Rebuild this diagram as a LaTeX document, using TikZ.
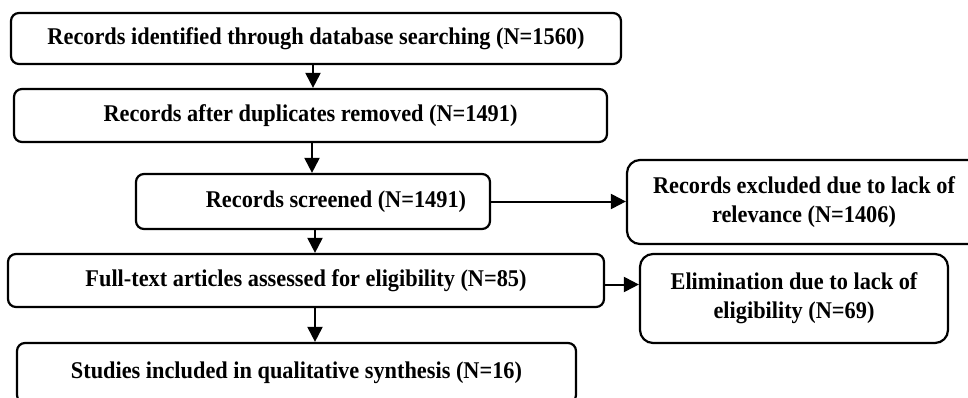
\documentclass[tikz,border=0pt]{standalone}
\usepackage{fontspec}
\setmainfont{Liberation Serif}
\newfontfamily\boxfont[FakeStretch=0.93]{Liberation Serif}
\usetikzlibrary{arrows.meta}
\begin{document}
\begin{tikzpicture}[x=1pt,y=-1pt,
  box/.style={draw=black,line width=2.2pt,rounded corners=8pt,inner sep=0pt,align=center,
    font=\boxfont\fontsize{24}{29}\selectfont\bfseries},
  bigbox/.style={box,rounded corners=13pt},
  arr/.style={line width=2pt,-{Triangle[length=15pt,width=15pt]}}]
\useasboundingbox (0,0) rectangle (968,398);
\fill[white] (0,0) rectangle (968,398);
\node[box,minimum width=610pt,minimum height=51pt] (b1) at (316,38.5) {Records identified through database searching (N=1560)};
\node[box,minimum width=593pt,minimum height=53pt] (b2) at (310.5,115.5) {Records after duplicates removed (N=1491)};
\node[box,minimum width=354pt,minimum height=55pt] (b3) at (313,201.5) {\hspace*{46pt}Records screened (N=1491)};
\node[bigbox,minimum width=354pt,minimum height=84pt] (b4) at (804,202) {Records excluded due to lack of\\relevance (N=1406)};
\node[box,minimum width=596pt,minimum height=53pt] (b5) at (306,280.5) {Full-text articles assessed for eligibility (N=85)};
\node[bigbox,minimum width=308pt,minimum height=89pt] (b6) at (794,298.5) {Elimination due to lack of\\eligibility (N=69)};
\node[box,minimum width=559pt,minimum height=60pt] (b7) at (296.5,373) {Studies included in qualitative synthesis (N=16)};
\draw[arr] ([xshift=-3pt]b1.south) -- ([xshift=-3pt]b1.south |- b2.north);
\draw[arr] ([xshift=1.5pt]b2.south) -- ([xshift=1.5pt]b2.south |- b3.north);
\draw[arr] ([xshift=2pt]b3.south) -- ([xshift=2pt]b3.south |- b5.north);
\draw[arr] ([xshift=9pt]b5.south) -- ([xshift=9pt]b5.south |- b7.north);
\draw[arr] (b3.east) -- (b3.east -| b4.west);
\draw[arr] ([yshift=-4pt]b5.east) -- ([yshift=-4pt]b5.east -| b6.west);
\end{tikzpicture}
\end{document}
